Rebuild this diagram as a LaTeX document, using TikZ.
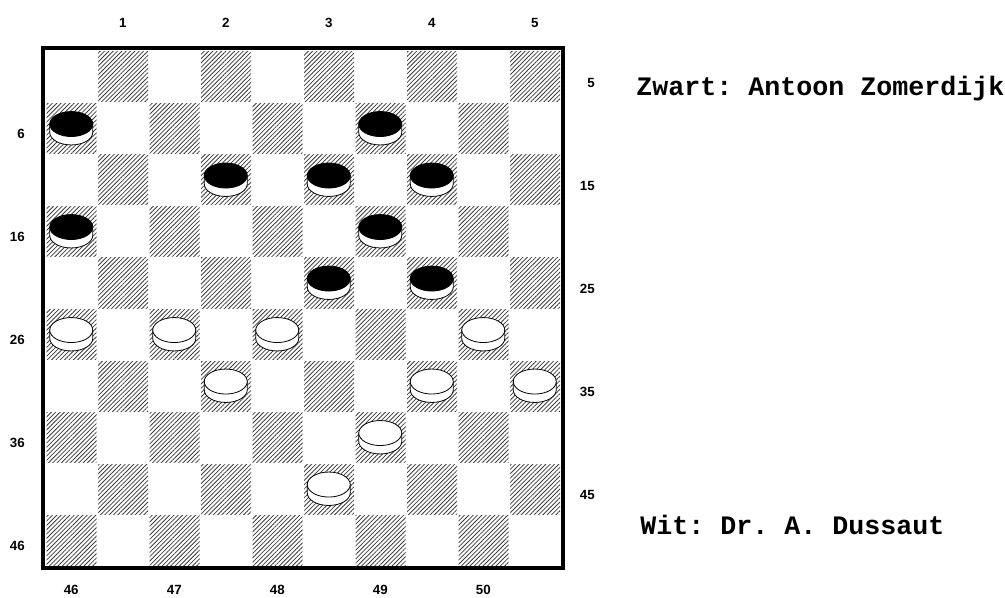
\documentclass[tikz,border=0pt]{standalone}
\usepackage{fontspec}
\setmainfont{Liberation Sans}
\newfontfamily\playerfont{Liberation Mono}
\usepackage{tikz}
\usetikzlibrary{patterns.meta}
\definecolor{hatch}{HTML}{3C3C3C}
\frenchspacing

\tikzset{pics/disc/.style={code={
  \draw[rim,fill=white] (-21.5,-4.2) -- (-21.5,4.2)
    arc[start angle=180,end angle=0,x radius=21.5,y radius=12.5] -- (21.5,-4.2) -- cycle;
  \draw[rim,fill=#1] (0,-4.2) ellipse[x radius=21.5,y radius=12.5];}}}

\begin{document}
\begin{tikzpicture}[x=0.75pt,y=-0.75pt,
  dark/.style={pattern={Lines[angle=45,distance=2.3pt,line width=0.6pt]},pattern color=hatch},
  num/.style={font=\bfseries\fontsize{10}{12}\selectfont,inner sep=0pt},
  player/.style={font=\playerfont\bfseries\fontsize{20}{24}\selectfont,inner sep=0pt,anchor=base west},
  rim/.style={draw=black,line width=0.6pt},
  frame/.style={draw=black,line width=2.7pt}]

\useasboundingbox (0,0) rectangle (1005,598);

% hatched squares
\foreach \r in {0,...,9}
  \foreach \c in {0,...,9}{
    \pgfmathtruncatemacro\odd{mod(\r+\c,2)}
    \ifnum\odd=1
      \path[dark] ({46.5+51.5*\c},{52+51.5*\r}) rectangle ++(50,50);
    \fi
  }

\draw[frame] (42.75,47.75) rectangle (563,568.25);

% black men
\foreach \c/\r in {0/1,6/1,3/2,5/2,7/2,0/3,6/3,5/4,7/4}
  \pic at ({45.5+51.5*(\c+0.5)},{51+51.5*(\r+0.5)}) {disc=black};

% white men
\foreach \c/\r in {0/5,2/5,4/5,8/5,3/6,7/6,9/6,6/7,5/8}
  \pic at ({45.5+51.5*(\c+0.5)},{51+51.5*(\r+0.5)}) {disc=white};

% square numbers
\foreach \k in {1,...,5}{
  \pgfmathtruncatemacro\bot{45+\k}
  \pgfmathtruncatemacro\lft{10*\k-4}
  \pgfmathtruncatemacro\rgt{10*\k-5}
  \node[num] (top\k) at ({45.5+51.5*(2*\k-0.5)},23) {\k};
  \node[num] (bot\k) at ({45.5+51.5*(2*\k-1.5)},590) {\bot};
  \node[num,anchor=east] (lft\k) at (25,{51+51.5*(2*\k-0.5)+6}) {\lft};
  \node[num,anchor=east] (rgt\k) at (595,{51+51.5*(2*\k-1.5)+6}) {\rgt};
}

\node[player] (zwart) at (636,96) {Zwart: Antoon Zomerdijk};
\node[player] (wit) at (640,534) {Wit: Dr. A. Dussaut};
\end{tikzpicture}
\end{document}
